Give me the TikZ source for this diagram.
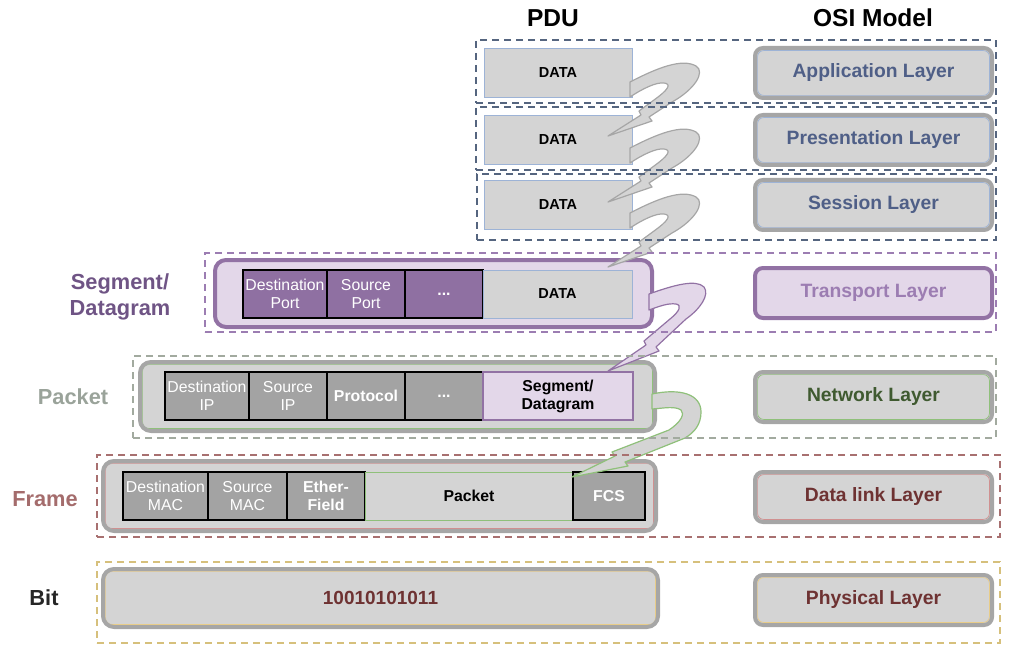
\documentclass[tikz,border=0pt]{standalone}
\usepackage{fontspec}
\setmainfont{Liberation Sans}
\definecolor{grayL}{HTML}{D4D4D4}
\definecolor{grayB}{HTML}{A6A6A6}
\definecolor{cellD}{HTML}{A3A3A3}
\definecolor{blueT}{HTML}{4F5F87}
\definecolor{blueL}{HTML}{9DB3D6}
\definecolor{dashBlue}{HTML}{55657F}
\definecolor{purB}{HTML}{9272A4}
\definecolor{purL}{HTML}{E3D7E9}
\definecolor{purT}{HTML}{9C7DB2}
\definecolor{purDark}{HTML}{6F5485}
\definecolor{purC}{HTML}{8F70A2}
\definecolor{greenT}{HTML}{3F5A30}
\definecolor{greenL}{HTML}{8FC07A}
\definecolor{dashGreen}{HTML}{A2AA9F}
\definecolor{redT}{HTML}{6E3232}
\definecolor{redL}{HTML}{D09090}
\definecolor{dashRed}{HTML}{A87070}
\definecolor{tanL}{HTML}{E8CC88}
\definecolor{dashTan}{HTML}{D6C07C}
\definecolor{pktT}{HTML}{9AA39A}
\definecolor{frmT}{HTML}{A46C6C}
\newcommand\fcell{\fontsize{15.8}{18}\selectfont}
\newcommand\fdata{\fontsize{14.5}{16}\selectfont\bfseries}
\newcommand\flayer{\fontsize{19.3}{21}\selectfont\bfseries}
\newcommand\fside{\fontsize{21.8}{26}\selectfont\bfseries}
\newcommand\ftitle{\fontsize{24.5}{27}\selectfont\bfseries}
\newcommand\mkbox[7]{\node[#2, minimum width={#5-#3}, minimum height={#6-#4}] (#1) at ({(#3+#5)/2},{(#4+#6)/2}) {#7};}
\begin{document}
\begin{tikzpicture}[x=1pt,y=-1pt,
  every node/.style={inner sep=0pt, outer sep=0pt, align=center},
  dashbox/.style={draw=#1, dash pattern=on 7pt off 5pt, line width=1.6pt},
  bigbox/.style={draw=grayB, fill=grayL, line width=4pt, rounded corners=11pt},
  inner/.style={path picture={\draw[draw=#1, line width=0.7pt, rounded corners=6pt] ([shift={(2.6pt,-2.6pt)}]path picture bounding box.north west) rectangle ([shift={(-2.6pt,2.6pt)}]path picture bounding box.south east);}},
  layer/.style={draw=grayB, fill=grayL, line width=4pt, rounded corners=8pt, font=\flayer},
  cell/.style={draw=black, line width=1.8pt, fill=cellD, text=white, font=\fcell},
  datab/.style={draw=blueL, line width=0.9pt, fill=grayL, font=\fdata},
  zap/.style 2 args={fill=#1, draw=#2, line width=1.2pt, line join=round}
]
\useasboundingbox (0,0) rectangle (1024,668);

% big PDU boxes
\mkbox{tBig}{bigbox, draw=purB, fill=purL}{215}{260}{652}{327}{}
\mkbox{nBig}{bigbox, inner=greenL}{140}{362}{655}{431}{}
\mkbox{fBig}{bigbox, inner=redL}{103}{461}{656}{531}{}
\mkbox{bBig}{bigbox, inner=tanL, font=\fontsize{19}{21}\selectfont\bfseries, text=redT}{103}{569}{658}{627}{10010101011}

% transport cells
\mkbox{tDst}{cell, fill=purC}{243}{270}{327}{318}{Destination\\Port}
\mkbox{tSrc}{cell, fill=purC}{327}{270}{405}{318}{Source\\Port}
\mkbox{tDot}{cell, fill=purC, font=\fcell\bfseries}{405}{270}{483}{318}{...}
\mkbox{tData}{datab}{483}{270}{632}{318}{DATA}

% network cells
\mkbox{nDst}{cell}{165}{372}{249}{420}{Destination\\IP}
\mkbox{nSrc}{cell}{249}{372}{327}{420}{Source\\IP}
\mkbox{nPro}{cell, font=\fcell\bfseries}{327}{372}{405}{420}{Protocol}
\mkbox{nDot}{cell, font=\fcell\bfseries}{405}{372}{483}{420}{...}
\mkbox{nSeg}{cell, draw=purB, line width=1.5pt, fill=purL, text=black, font=\fcell\bfseries}{483}{372}{633}{420}{Segment/\\Datagram}

% frame cells
\mkbox{fDst}{cell}{123}{472}{208}{520}{Destination\\MAC}
\mkbox{fSrc}{cell}{208}{472}{287}{520}{Source\\MAC}
\mkbox{fEth}{cell, font=\fcell\bfseries}{287}{472}{365}{520}{Ether-\\Field}
\mkbox{fPkt}{cell, draw=greenL, line width=0.9pt, fill=grayL, text=black, font=\fcell\bfseries}{365}{472}{573}{520}{Packet}
\mkbox{fFcs}{cell, font=\fcell\bfseries}{573}{472}{645}{520}{FCS}

% upper DATA boxes
\mkbox{dA}{datab}{484}{48}{632}{97}{DATA}
\mkbox{dP}{datab}{484}{115}{632}{164}{DATA}
\mkbox{dS}{datab}{484}{180}{632}{229}{DATA}

% OSI layer boxes
\mkbox{lApp}{layer, inner=blueL, text=blueT}{755}{48}{992}{98}{Application Layer}
\mkbox{lPre}{layer, inner=blueL, text=blueT}{755}{115}{992}{165}{Presentation Layer}
\mkbox{lSes}{layer, inner=blueL, text=blueT}{755}{180}{992}{230}{Session Layer}
\mkbox{lTra}{layer, draw=purB, fill=purL, text=purT}{755}{268}{992}{318}{Transport Layer}
\mkbox{lNet}{layer, inner=greenL, text=greenT}{755}{372}{992}{422}{Network Layer}
\mkbox{lDat}{layer, inner=redL, text=redT}{755}{472}{992}{522}{Data link Layer}
\mkbox{lPhy}{layer, inner=tanL, text=redT}{755}{575}{992}{625}{Physical Layer}

% lightning arrows
\foreach \yy in {90,156,221}{
\begin{scope}[shift={(632,\yy)}]
\path[zap={grayL}{grayB}] (-2,-8) .. controls (25,-22) and (50,-32) .. (64,-24) .. controls (74,-18) and (62,0) .. (40,12) -- (17,27) -- (20,31) -- (-24,46) -- (9,25) -- (7,21) -- (22,10) .. controls (36,0) and (40,-6) .. (32,-7) .. controls (24,-8) and (10,-1) .. (-2,7) -- cycle;
\end{scope}}
\begin{scope}[shift={(652,303)}]
\path[zap={purL}{purB}] (-3,-9) .. controls (22,-18) and (44,-24) .. (52,-16) .. controls (58,-8) and (48,6) .. (34,16) -- (4,44) -- (7,48) -- (-44,68) -- (-6,42) -- (-8,38) -- (18,16) .. controls (28,8) and (30,2) .. (24,1) .. controls (16,0) and (8,3) .. (-3,7) -- cycle;
\end{scope}
\begin{scope}[shift={(655,402)}]
\path[zap={grayL}{greenL}] (-3,-8) .. controls (25,-14) and (46,-8) .. (46,10) .. controls (46,22) and (40,30) .. (30,36) -- (-30,60) -- (-27,64) -- (-83,75) -- (-40,54) -- (-43,50) -- (14,28) .. controls (26,20) and (30,12) .. (26,8) .. controls (20,4) and (10,6) .. (-3,7) -- cycle;
\end{scope}

% dashed layer frames
\mkbox{gApp}{dashbox=dashBlue}{476}{40}{996}{103}{}
\mkbox{gPre}{dashbox=dashBlue}{476}{107}{996}{170}{}
\mkbox{gSes}{dashbox=dashBlue}{477}{174}{996}{240}{}
\mkbox{gTra}{dashbox=purT}{205}{253}{996}{332}{}
\mkbox{gNet}{dashbox=dashGreen}{133}{356}{996}{438}{}
\mkbox{gFrm}{dashbox=dashRed}{97}{455}{1000}{537}{}
\mkbox{gBit}{dashbox=dashTan}{97}{562}{1000}{643}{}

% titles and side labels
\node[font=\ftitle] (tPdu) at (553,18) {PDU};
\node[font=\ftitle] (tOsi) at (873,18) {OSI Model};
\node[font=\fside, text=purDark] (sSeg) at (120,297) {Segment/\\Datagram};
\node[font=\fside, text=pktT] (sPkt) at (73,397) {Packet};
\node[font=\fside, text=frmT] (sFrm) at (45,499) {Frame};
\node[font=\fside, text=black!85] (sBit) at (44,598) {Bit};
\end{tikzpicture}
\end{document}
